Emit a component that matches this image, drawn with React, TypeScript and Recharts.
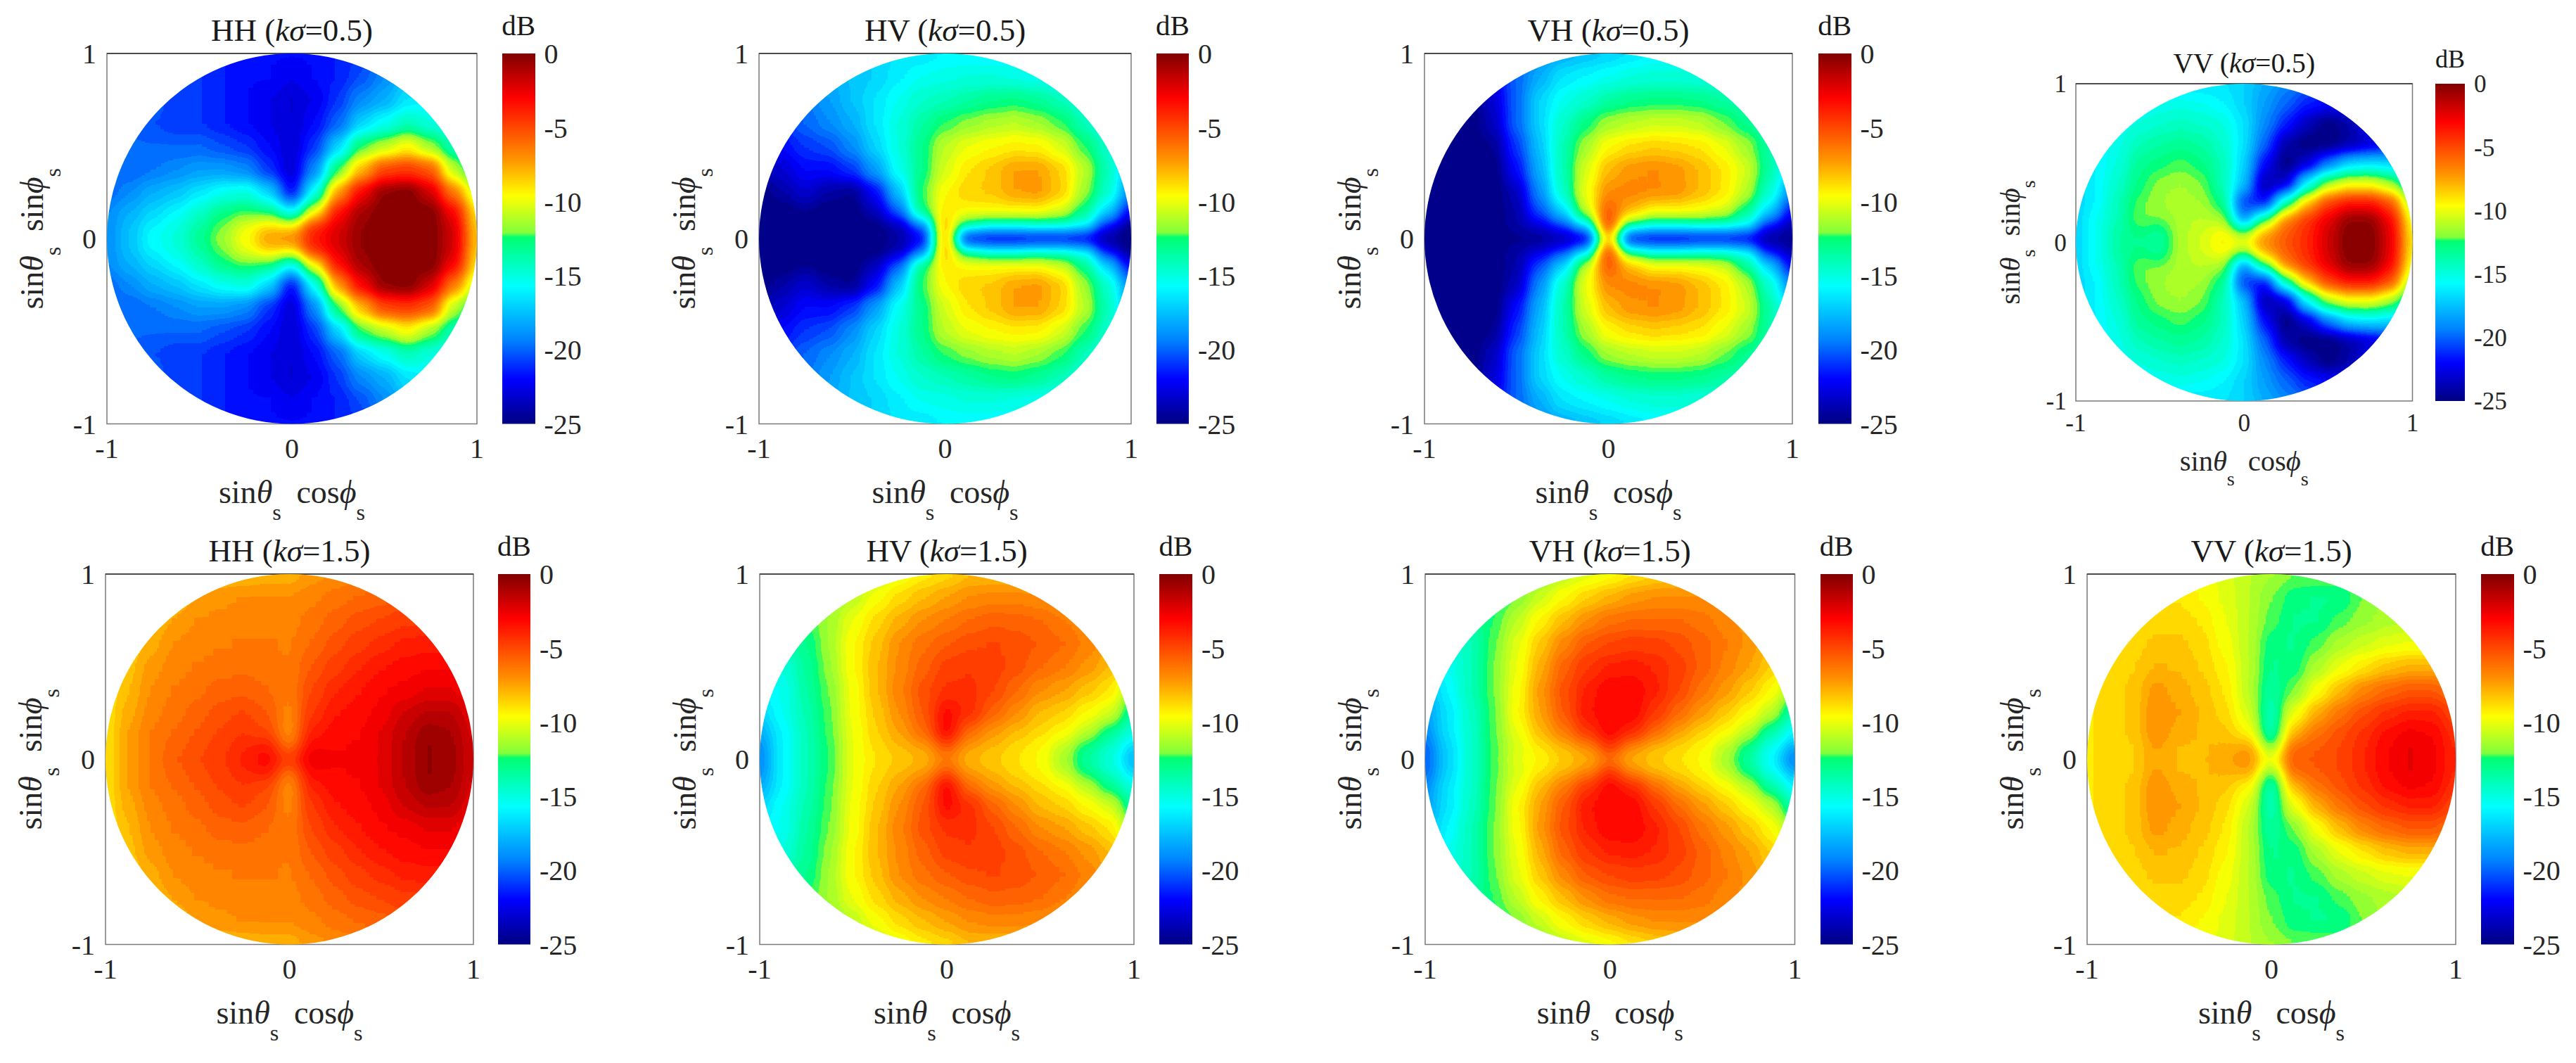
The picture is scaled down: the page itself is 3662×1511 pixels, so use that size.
import { Bar, BarChart, ReferenceArea, ReferenceLine, Scatter, ScatterChart, XAxis, YAxis } from "recharts";

const FONT = "'Liberation Serif', 'Times New Roman', serif";
const TICKS = [-1, 0, 1];
const DB_TICKS = [0, -5, -10, -15, -20, -25];
const MIN_DB = -25;

// sample grid of the upper half of each map, the lower half mirrors it
const XS = [-1, -0.875, -0.75, -0.625, -0.5, -0.375, -0.25, -0.125, 0, 0.125, 0.25, 0.375, 0.5, 0.625, 0.75, 0.875, 1];
const YS = [0, 0.06, 0.15, 0.25, 0.375, 0.5, 0.625, 0.75, 0.875, 1];

const HH_05 = [
  [-19, -17.5, -15.5, -15, -13, -11.5, -9.5, -7, -6, -3.5, -2, -0.5, 0, 0, 0, -2, -8],
  [-19, -17.5, -16, -15, -13.5, -12, -10, -8.5, -9, -4, -2.2, -0.5, 0, 0, 0, -2, -8.5],
  [-19, -18, -17, -16, -14.5, -13, -12.5, -13, -16, -10, -3.5, -1, 0, 0, 0, -3, -9],
  [-20, -19, -18, -17.5, -16.5, -15.5, -15, -17, -22, -15.5, -7.5, -3, -0.5, 0, -2, -6.5, -11],
  [-20, -20, -19.5, -19, -18.5, -18.5, -19, -21, -23, -19, -12.5, -8, -5, -4.5, -5.5, -11, -14],
  [-20, -20, -20, -20, -20, -20.5, -21, -22, -23, -21, -17, -12.5, -11, -9.5, -11.5, -14, -15.5],
  [-20, -20, -20.5, -21, -21, -21.5, -22, -22.5, -23, -22, -20, -17, -15.5, -14, -15, -16, -16.5],
  [-20, -20, -20, -21, -21, -21.5, -22, -22.5, -23, -22.5, -21, -19, -18, -16.5, -16, -16, -16],
  [-20, -20, -20, -20.5, -21, -21.5, -22, -22, -22.5, -22, -21.5, -20.5, -19, -17.5, -16.5, -16, -16],
  [-20, -20, -20, -20.5, -21, -21.5, -22, -22, -22, -22, -21.5, -21, -20, -18, -17, -16, -16],
];

const HV_05 = [
  [-25, -25, -25, -25, -25, -25, -24, -23, -8, -25, -25, -25, -25, -25, -25, -25, -25],
  [-25, -25, -25, -25, -25, -25, -24, -20, -8, -14, -15.5, -15.5, -15, -15, -16, -22, -25],
  [-25, -25, -24.5, -25, -25, -23.5, -20, -13, -9, -9.5, -9.5, -9.5, -9.5, -10.5, -13, -17, -22],
  [-25, -24, -23, -24, -24.5, -22, -17.5, -12.5, -9.5, -8.5, -8.3, -7.5, -7.3, -8.3, -11.5, -14.5, -19],
  [-24, -23, -22, -22, -21, -18.5, -15.5, -13, -10.5, -9, -8.3, -7.5, -7.5, -8.5, -11, -14, -18],
  [-23, -22, -21, -20.5, -19, -17, -15, -13, -11, -10, -9.5, -9.2, -9.3, -10.4, -12.5, -14.5, -18],
  [-22, -21, -20, -19, -18, -16.5, -15, -13.5, -12.5, -11.8, -11.3, -11, -11.5, -12.4, -14, -15.5, -17],
  [-21, -20, -19.5, -18.5, -17.5, -16.5, -15.5, -14.5, -14, -13.5, -13, -12.8, -13.2, -14, -15, -16, -17],
  [-20, -19.5, -19, -18, -17.5, -17, -16.2, -15.5, -15.3, -15, -15, -15.2, -15.5, -16, -16.5, -17, -17],
  [-19, -19, -18.5, -18, -17.5, -17, -16.5, -16.5, -16, -16, -16, -16, -16.5, -16.5, -17, -17, -17],
];

const VH_05 = [
  [-25, -25, -25, -25, -25, -25, -25, -25, -10, -25, -25, -25, -25, -25, -25, -25, -25],
  [-25, -25, -25, -25, -24, -23, -21, -17, -5, -14, -15.5, -15.5, -15, -15, -16, -22, -24],
  [-25, -25, -25, -25, -24, -20.5, -17, -11, -5.5, -8, -9.5, -9.5, -9.8, -10.5, -13, -17, -22],
  [-25, -25, -25, -25, -23.5, -19, -14.5, -10, -7, -6.8, -7, -7.2, -8, -9, -11, -14.5, -19],
  [-25, -25, -25, -25, -22, -18, -14, -10.5, -8, -7.2, -7, -7.3, -8, -9, -10.5, -13.5, -17],
  [-25, -25, -25, -24.5, -21, -17.5, -14, -11.5, -9.5, -8.8, -8.5, -8.7, -9, -10, -11.5, -13.5, -16.5],
  [-25, -25, -25, -23.5, -20, -17, -14.5, -12.8, -11.5, -11, -10.7, -10.7, -11, -12, -13, -14, -16],
  [-25, -25, -25, -23, -20, -17, -15.5, -14.5, -13.5, -13, -12.8, -12.8, -13, -13.5, -14, -15, -16],
  [-25, -25, -24, -22.5, -20, -18, -16.5, -16, -15.5, -15, -14.8, -14.8, -15, -15, -15.5, -16, -16],
  [-25, -25, -24, -22, -20.5, -19, -18, -17.5, -17, -16.5, -16, -15.8, -15.5, -15.5, -16, -16, -16],
];

const VV_05 = [
  [-17, -15.5, -13.5, -13, -13.5, -11.2, -10.5, -9, -9, -7, -5.5, -4, -2, 0, 0, -2.5, -9],
  [-17, -15.5, -13.5, -12.8, -13.3, -11.3, -10.5, -9.5, -12, -7.5, -5.5, -4, -2, 0, 0, -2.5, -9.5],
  [-17, -15.5, -14, -12, -12, -11.3, -11, -11.5, -19, -13, -7, -4.5, -2.5, -0.5, -0.5, -3, -10],
  [-17, -16, -14, -12.3, -11.5, -11.3, -11.5, -13, -21, -22, -14, -8.5, -5, -3.5, -3.5, -5.5, -12],
  [-17, -16, -14.5, -12.8, -11.8, -11.5, -12, -14, -17.5, -24, -23, -16, -11.5, -10, -10, -11.5, -15],
  [-17, -16, -15, -13.2, -12.7, -12.3, -12.8, -14, -17, -22, -25, -23, -19.5, -17, -16.5, -17, -18],
  [-17, -16, -15.3, -14, -13.5, -13.2, -13.5, -14.5, -16.5, -20, -24, -25, -25, -24, -23, -22, -21],
  [-17, -16.5, -15.5, -15, -14.5, -14.2, -14.5, -15, -16.5, -19, -21.5, -23.5, -25, -24, -22, -20, -20],
  [-17, -16.5, -16, -15.7, -15.5, -15.3, -15.5, -16, -17, -18.5, -20, -21.5, -22, -22, -21, -20, -20],
  [-17, -17, -16.5, -16.5, -16.5, -16.5, -16.5, -16.5, -17, -18, -19, -20, -21, -21, -20, -20, -20],
];

const HH_15 = [
  [-9, -7.5, -6.5, -5.5, -5, -4.5, -3.8, -3, -4, -2.5, -2.8, -2.8, -2.5, -1.5, -0.5, -0.8, -2],
  [-9, -7.5, -6.5, -5.8, -5.3, -4.7, -4, -3.5, -6, -3, -3, -2.9, -2.5, -1.5, -0.5, -0.8, -2],
  [-9, -7.5, -6.5, -6, -5.5, -5, -4.5, -5, -7, -3.8, -3.2, -3, -2.5, -1.6, -0.7, -1, -2.2],
  [-9, -7.7, -6.8, -6.3, -5.8, -5.3, -5, -5.5, -6.8, -4.5, -3.5, -3.2, -2.8, -2, -1.5, -1.5, -2.5],
  [-9, -8, -7, -6.5, -6.2, -5.8, -5.7, -6, -6.5, -5, -4, -3.5, -3, -2.8, -2.5, -2.5, -3],
  [-9, -8.2, -7.3, -6.8, -6.5, -6.3, -6.2, -6.3, -6.5, -5.5, -4.7, -4, -3.5, -3.2, -3, -3, -3.5],
  [-9, -8.5, -7.7, -7, -6.8, -6.6, -6.5, -6.5, -6.6, -6, -5.3, -4.7, -4.2, -3.8, -3.7, -3.7, -4],
  [-9, -9, -8, -7.5, -7, -6.9, -6.8, -6.8, -6.8, -6.3, -5.8, -5.3, -5, -4.6, -4.5, -4.5, -4.5],
  [-9.5, -9, -8.8, -8, -7.5, -7.2, -7, -7, -7, -6.7, -6.3, -6, -5.8, -5.5, -5.5, -5.5, -5.5],
  [-9.5, -9.5, -9, -9, -8.5, -8, -8, -7.8, -7.8, -7.3, -7, -6.8, -6.5, -6, -6, -6, -6],
];

const HV_15 = [
  [-19, -16, -14, -12.5, -10, -9, -8.5, -8, -7, -8, -8.5, -9, -9.5, -11.5, -13.5, -15, -18],
  [-19, -16, -14, -12.5, -10, -8.8, -8, -7.5, -5.5, -7.5, -8, -8.8, -9.5, -11, -13, -14.5, -17],
  [-18, -16, -14, -12.3, -10, -8.5, -7.5, -6, -3, -6, -7.3, -8, -8.7, -9.5, -11, -13, -15],
  [-17, -15.5, -13.8, -12.2, -9.8, -8.3, -7, -5.5, -3.2, -4.2, -5.8, -7, -8, -8.5, -9.5, -10.5, -13.5],
  [-16, -15.5, -13.5, -12, -9.8, -8, -6.7, -5.3, -4.3, -4.3, -5, -6, -7, -7.5, -8.2, -9, -12],
  [-15.5, -15, -13.3, -11.7, -9.5, -8, -6.9, -5.8, -4.8, -4.5, -4.8, -5.3, -6, -6.5, -7.2, -8, -10],
  [-14, -14, -13, -11.5, -9.5, -8.2, -7, -6.2, -5.6, -5.2, -5, -5.2, -5.6, -6, -6.7, -7.5, -9],
  [-13, -13, -12.5, -11.5, -10, -8.7, -7.7, -7, -6.5, -6, -5.7, -5.8, -6, -6.5, -7, -8, -8.5],
  [-13, -13, -12.5, -12, -11, -9.7, -8.7, -8, -7.5, -7, -6.8, -6.8, -7, -7.5, -8, -8.5, -9],
  [-13, -13, -12.5, -12.5, -12, -11, -10, -9.2, -8.7, -8, -8, -8, -8, -8, -8.5, -9, -9],
];

const VH_15 = [
  [-20, -17, -14.5, -12.3, -10, -9.5, -8.5, -8, -7, -8, -8.5, -9, -9.5, -11.5, -13.5, -16, -20],
  [-20, -17, -14.5, -12.3, -10.5, -9, -8, -7, -4.5, -7, -8, -8.7, -9.5, -11, -13, -15.5, -18],
  [-19, -16.5, -14.5, -12.2, -10, -8, -6.5, -4.5, -3, -4, -6, -7.5, -8.5, -9.5, -11, -13.5, -16],
  [-18.5, -16.5, -14.3, -12.2, -9.5, -7.5, -5.5, -3.5, -3, -3, -4.5, -6, -7.3, -8.3, -9.5, -11, -14],
  [-18, -16, -14, -12, -9.7, -7.3, -5.3, -3.8, -3, -3, -3.8, -5, -6.3, -7.3, -8.3, -9.5, -12],
  [-17, -15.5, -14, -12, -10, -7.7, -5.8, -4.5, -3.8, -3.7, -4, -4.8, -5.7, -6.7, -7.5, -8.5, -10],
  [-16, -15, -14, -12.2, -10.2, -8.3, -6.8, -5.5, -5, -4.7, -4.8, -5.2, -5.8, -6.5, -7.2, -8, -9],
  [-15, -15, -13.5, -12.5, -11, -9.3, -8, -7, -6.2, -6, -6, -6, -6.3, -6.8, -7.2, -8, -8.5],
  [-15, -15, -14, -13, -12, -10.7, -9.5, -8.5, -7.8, -7.3, -7, -7, -7, -7.5, -8, -8, -8.5],
  [-15, -15, -14, -13.5, -13, -12, -11, -10.3, -9.7, -9, -8.5, -8.2, -8, -8, -8.2, -8.5, -8.5],
];

const VV_15 = [
  [-9, -8.8, -8.5, -7.5, -8, -8, -7.5, -7, -9, -5.5, -5.5, -5, -4, -3, -2.5, -2.8, -4],
  [-9, -8.8, -8.5, -7.5, -8, -8, -7.8, -7.5, -12, -6, -5.5, -5, -4, -3, -2.5, -2.8, -4],
  [-9, -8.8, -8.3, -7, -7.7, -8, -8.3, -9.5, -14, -8, -6.3, -5.3, -4.3, -3.3, -2.8, -3, -4.3],
  [-9, -8.8, -8.3, -7, -7.5, -8, -8.7, -10.5, -14, -10, -7.7, -6.3, -5.2, -4.3, -3.8, -3.8, -5],
  [-9, -8.8, -8.3, -7.3, -7.7, -8.2, -9, -11, -13.5, -12, -9.7, -8, -6.8, -6, -5.5, -5.5, -6.5],
  [-9, -8.8, -8.5, -7.9, -8, -8.5, -9.3, -11, -13, -12.8, -11.3, -10, -9, -8.2, -7.8, -7.8, -8.5],
  [-9, -9, -8.7, -8.3, -8.3, -8.7, -9.7, -11, -12.8, -13, -12.3, -11.3, -10.7, -10.2, -10, -10, -10.5],
  [-9, -9, -8.8, -8.7, -8.7, -9, -10, -11, -12.3, -13, -13, -12.3, -11.7, -11.3, -11, -11, -11],
  [-9, -9, -9, -9, -9, -9.5, -10.2, -11, -12, -12.8, -13, -13, -12, -11.5, -11.5, -11.5, -11.5],
  [-9, -9, -9, -9.3, -9.5, -9.7, -10.3, -11, -11.5, -12, -12, -12, -11.8, -11.5, -11.5, -11.5, -11.5],
];

// colour bar of the figure, dB -> rgb, with the jump in the greens at about -12.2
const COLOR_STOPS: [number, number[]][] = [
  [-25, [0, 0, 128]],
  [-22, [0, 0, 255]],
  [-19.4, [0, 128, 255]],
  [-15.7, [0, 255, 255]],
  [-12.4, [0, 255, 112]],
  [-12.1, [130, 255, 60]],
  [-9.6, [255, 255, 0]],
  [-7.2, [255, 150, 0]],
  [-3, [255, 0, 0]],
  [0, [128, 0, 0]],
];

const PANELS = [
  { pol: "HH", ks: "0.5", values: HH_05, x: 151.5, y: 76, w: 526, h: 526.5, barX: 713.5, barW: 46.5, k: 1 },
  { pol: "HV", ks: "0.5", values: HV_05, x: 1078.5, y: 76, w: 529, h: 526.5, barX: 1643.5, barW: 46, k: 1 },
  { pol: "VH", ks: "0.5", values: VH_05, x: 2025, y: 76, w: 523, h: 526.5, barX: 2584.5, barW: 46.5, k: 1 },
  { pol: "VV", ks: "0.5", values: VV_05, x: 2950.5, y: 118.5, w: 478.5, h: 451, barX: 3462, barW: 42, k: 0.88 },
  { pol: "HH", ks: "1.5", values: HH_15, x: 149.5, y: 815.5, w: 523, h: 526.5, barX: 708, barW: 46, k: 1 },
  { pol: "HV", ks: "1.5", values: HV_15, x: 1079.5, y: 815.5, w: 532, h: 526.5, barX: 1647.5, barW: 47, k: 1 },
  { pol: "VH", ks: "1.5", values: VH_15, x: 2025.5, y: 815.5, w: 525.5, h: 526.5, barX: 2587.5, barW: 45.5, k: 1 },
  { pol: "VV", ks: "1.5", values: VV_15, x: 2967, y: 815.5, w: 524, h: 526.5, barX: 3527, barW: 46.5, k: 1 },
];

const colorAt = (db: number) => {
  for (let i = 1; i < COLOR_STOPS.length; i++) {
    const [v0, c0] = COLOR_STOPS[i - 1];
    const [v1, c1] = COLOR_STOPS[i];
    if (db <= v1) {
      const t = (db - v0) / (v1 - v0);
      return c0.map((c, j) => c + (c1[j] - c) * t);
    }
  }
  return COLOR_STOPS[COLOR_STOPS.length - 1][1];
};

// the maps are drawn as gray dB cells, blurred, then pushed through the colour table
const LEVELS = Array.from({ length: 50 }, (_, i) => colorAt(MIN_DB + (i + 0.5) * 0.5));
const channel = (j: number) => LEVELS.map((c) => (c[j] / 255).toFixed(3)).join(" ");
const dbToGray = (db: number) => {
  const g = Math.round(((db - MIN_DB) / -MIN_DB) * 255);
  return `rgb(${g},${g},${g})`;
};

const edges = (list: number[], i: number) => [
  i === 0 ? list[0] - 0.3 : (list[i - 1] + list[i]) / 2,
  i === list.length - 1 ? list[i] + 0.3 : (list[i] + list[i + 1]) / 2,
];

const buildPoints = (values: number[][]) => {
  const points: any[] = [];
  values.forEach((row, r) => {
    row.forEach((db, c) => {
      const [x0, x1] = edges(XS, c);
      const y1 = edges(YS, r)[1];
      const y0 = r === 0 ? -y1 : edges(YS, r)[0];
      points.push({ x: XS[c], y: YS[r], db, x0, x1, y0, y1 });
      if (r > 0) points.push({ x: XS[c], y: -YS[r], db, x0, x1, y0: -y1, y1: -y0 });
    });
  });
  return points;
};

const LEFT = 145;
const TOP = 74;
const BOTTOM = 175;

const makeCell = (sx: number, sy: number) => (props: any) => {
  const { cx, cy, payload: p } = props;
  return (
    <rect
      x={cx + (p.x0 - p.x) * sx - 0.5}
      y={cy - (p.y1 - p.y) * sy - 0.5}
      width={(p.x1 - p.x0) * sx + 1}
      height={(p.y1 - p.y0) * sy + 1}
      fill={dbToGray(p.db)}
    />
  );
};

function AxisTitle({ cx, cy, size, rotate }: { cx: number; cy: number; size: number; rotate: boolean }) {
  const drop = size * 0.54;
  const sub = size * 0.7;
  const second = rotate ? "sin" : "cos";
  return (
    <text
      x={cx}
      y={cy}
      textAnchor="middle"
      fontFamily={FONT}
      fontSize={size}
      fill="#262626"
      transform={rotate ? `rotate(-90 ${cx} ${cy})` : undefined}
    >
      sin
      <tspan fontStyle="italic">θ</tspan>
      <tspan fontSize={sub} dy={drop}>s</tspan>
      <tspan dy={-drop} dx={size * 0.22}> {second}</tspan>
      <tspan fontStyle="italic">ϕ</tspan>
      <tspan fontSize={sub} dy={drop}>s</tspan>
    </text>
  );
}

function Panel({ panel, index }: { panel: (typeof PANELS)[number]; index: number }) {
  const { x, y, w, h, k } = panel;
  const tick = { fontFamily: FONT, fontSize: 40 * k, fill: "#262626" };
  const Cell = makeCell(w / 2, h / 2);
  return (
    <div style={{ position: "absolute", left: x - LEFT, top: y - TOP }}>
      <ScatterChart width={w + LEFT + 20} height={h + TOP + BOTTOM} margin={{ top: TOP, right: 20, bottom: 0, left: 0 }}>
        <XAxis
          type="number"
          dataKey="x"
          domain={[-1, 1]}
          ticks={TICKS}
          height={BOTTOM}
          tick={tick}
          tickLine={false}
          tickSize={0}
          tickMargin={20 * k}
          axisLine={false}
        />
        <YAxis
          type="number"
          dataKey="y"
          domain={[-1, 1]}
          ticks={TICKS}
          width={LEFT}
          tick={tick}
          tickLine={false}
          tickSize={0}
          tickMargin={15 * k}
          axisLine={false}
        />
        <Scatter data={buildPoints(panel.values)} className={`heat-${index}`} shape={Cell} isAnimationActive={false} />
        <ReferenceArea x1={-1} x2={1} y1={-1} y2={1} fill="none" stroke="#7a7a7a" strokeWidth={1.5} fillOpacity={0} />
        <ReferenceLine y={1} stroke="#303030" strokeWidth={1.5} />
        <text x={LEFT + w / 2} y={TOP - 18 * k} textAnchor="middle" fontFamily={FONT} fontSize={45 * k} fill="#1a1a1a">
          {panel.pol} (<tspan fontStyle="italic">kσ</tspan>={panel.ks})
        </text>
        <AxisTitle cx={LEFT + w / 2} cy={TOP + h + 112 * k} size={46 * k} rotate={false} />
        <AxisTitle cx={LEFT - 91 * k} cy={TOP + h / 2} size={46 * k} rotate />
      </ScatterChart>
    </div>
  );
}

const BAR_DATA = [{ name: "dB", range: [MIN_DB, 0] }];

function ColorBar({ panel }: { panel: (typeof PANELS)[number] }) {
  const { y, h, barX, barW, k } = panel;
  return (
    <div style={{ position: "absolute", left: barX - 10, top: y - 70 }}>
      <BarChart
        width={barW + 100}
        height={h + 110}
        data={BAR_DATA}
        barCategoryGap={0}
        margin={{ top: 70, right: 0, bottom: 40, left: 10 }}
      >
        <XAxis dataKey="name" hide />
        <YAxis
          orientation="right"
          domain={[MIN_DB, 0]}
          ticks={DB_TICKS}
          width={90}
          interval={0}
          tick={{ fontFamily: FONT, fontSize: 40 * k, fill: "#262626" }}
          tickLine={false}
          tickSize={0}
          tickMargin={13}
          axisLine={false}
        />
        <Bar dataKey="range" fill="url(#jet-bar)" isAnimationActive={false} />
        <text x={10 + barW / 2} y={70 - 26 * k} textAnchor="middle" fontFamily={FONT} fontSize={41 * k} fill="#1a1a1a">
          dB
        </text>
      </BarChart>
    </div>
  );
}

export default function App() {
  const css = PANELS.map(
    (_, i) => `.heat-${i} { filter: url(#heat); clip-path: url(#disk-${i}); }`,
  ).join("\n");
  return (
    <div style={{ position: "absolute", left: 0, top: 0, width: 3662, height: 1511, background: "#fff", overflow: "hidden" }}>
      <style>{css}</style>
      <svg width={0} height={0} style={{ position: "absolute" }}>
        <defs>
          <filter
            id="heat"
            colorInterpolationFilters="sRGB"
            filterUnits="userSpaceOnUse"
            x={-200}
            y={-200}
            width={1400}
            height={1400}
          >
            <feGaussianBlur stdDeviation={10} />
            <feComponentTransfer>
              <feFuncR type="discrete" tableValues={channel(0)} />
              <feFuncG type="discrete" tableValues={channel(1)} />
              <feFuncB type="discrete" tableValues={channel(2)} />
            </feComponentTransfer>
          </filter>
          <linearGradient id="jet-bar" x1="0" y1="1" x2="0" y2="0">
            {COLOR_STOPS.map(([db, c]) => (
              <stop key={db} offset={(db - MIN_DB) / -MIN_DB} stopColor={`rgb(${c.join(",")})`} />
            ))}
          </linearGradient>
          {PANELS.map((p, i) => (
            <clipPath id={`disk-${i}`} key={i}>
              <ellipse cx={LEFT + p.w / 2} cy={TOP + p.h / 2} rx={p.w / 2} ry={p.h / 2} />
            </clipPath>
          ))}
        </defs>
      </svg>
      {PANELS.map((p, i) => (
        <Panel key={i} panel={p} index={i} />
      ))}
      {PANELS.map((p, i) => (
        <ColorBar key={i} panel={p} />
      ))}
    </div>
  );
}
